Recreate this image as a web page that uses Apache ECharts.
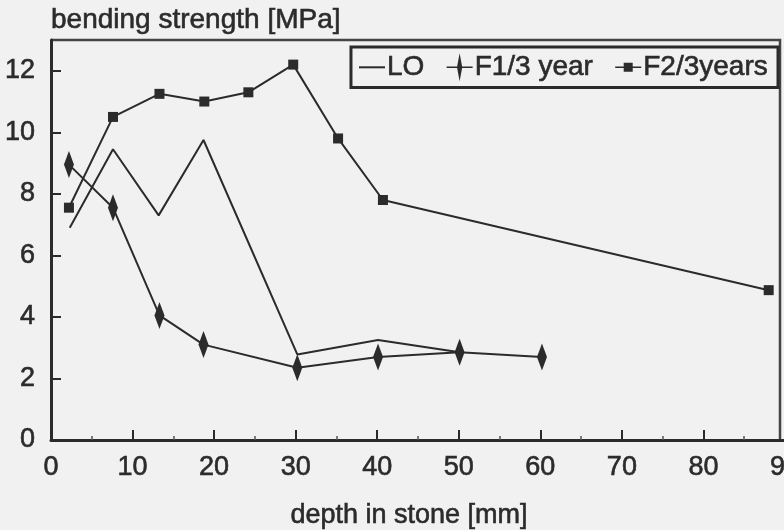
<!DOCTYPE html>
<html>
<head>
<meta charset="utf-8">
<script src="https://cdn.jsdelivr.net/npm/echarts@6/dist/echarts.min.js"></script>
<style>
html,body{margin:0;padding:0;background:#f1f1f1;}
#chart{width:784px;height:530px;}
</style>
</head>
<body>
<div id="chart"></div>
<script>
// depth in stone [mm] and bending strength [MPa]
const depthLO = [2.3, 7.6, 13.2, 18.7, 30.2, 40.1, 50.1];
const strengthLO = [6.9, 9.45, 7.3, 9.75, 2.78, 3.25, 2.85];

const depthF1 = [2.2, 7.6, 13.3, 18.7, 30.2, 40.1, 50.1, 60.2];
const strengthF1 = [8.95, 7.55, 4.05, 3.1, 2.35, 2.7, 2.85, 2.7];

const depthF2 = [2.2, 7.6, 13.3, 18.8, 24.2, 29.7, 35.2, 40.7, 88.0];
const strengthF2 = [7.55, 10.5, 11.25, 11.0, 11.3, 12.2, 9.8, 7.8, 4.87];

const seriesNames = ['LO', 'F1/3 year', 'F2/3years'];
const xTicks = [0, 10, 20, 30, 40, 50, 60, 70, 80, 90];
const yTicks = [0, 2, 4, 6, 8, 10, 12];

const zip = (xs, ys) => xs.map((x, i) => [x, ys[i]]);

const INK = '#2b2b2b';
const FONT = '"Liberation Sans", Arial, sans-serif';
const THICK = {textBorderColor: INK, textBorderWidth: 0.6};

const chart = echarts.init(document.getElementById('chart'), null, {renderer: 'canvas'});
chart.setOption({
  backgroundColor: '#f1f1f1',
  animation: false,
  textStyle: {fontFamily: FONT, color: INK},
  grid: {left: 51, right: -1, top: 40, bottom: 90, outerBoundsMode: 'none', containLabel: false},
  legend: {
    right: 6, top: 47,
    itemWidth: 26, itemHeight: 28, itemGap: 22,
    padding: [6, 10, 6, 8],
    borderColor: INK, borderWidth: 3,
    textStyle: Object.assign({fontSize: 28, color: INK, fontFamily: FONT, padding: [0, 0, 0, -3]}, THICK),
    data: [
      {name: seriesNames[0], icon: 'path://M0,13H26V15H0Z'},
      {name: seriesNames[1], icon: 'path://M0,13.2H10.5L13,0L15.5,13.2H26V14.8H15.5L13,28L10.5,14.8H0Z'},
      {name: seriesNames[2], icon: 'path://M0,13.2H8.5V9.5H17.5V13.2H26V14.8H17.5V18.5H8.5V14.8H0Z'}
    ]
  },
  xAxis: {
    type: 'value', min: xTicks[0], max: xTicks[xTicks.length - 1], interval: 10,
    name: 'depth in stone [mm]', nameLocation: 'middle', nameGap: 62,
    nameTextStyle: Object.assign({fontSize: 27, color: INK, fontFamily: FONT, padding: [0, 18, 0, 0]}, THICK),
    axisLine: {show: true, lineStyle: {color: INK, width: 3}},
    axisTick: {show: true, inside: true, length: 10, lineStyle: {color: INK, width: 2}},
    minorTick: {show: true, splitNumber: 2, length: 4, lineStyle: {color: '#555', width: 1.5}},
    axisLabel: Object.assign({fontSize: 27, color: INK, margin: 14, fontFamily: FONT}, THICK),
    splitLine: {show: false}
  },
  yAxis: {
    type: 'value', min: yTicks[0], max: 13, interval: 2,
    name: 'bending strength [MPa]', nameLocation: 'end', nameGap: 6,
    nameTextStyle: Object.assign({fontSize: 28, color: INK, fontFamily: FONT, align: 'left', verticalAlign: 'bottom'}, THICK),
    axisLine: {show: true, lineStyle: {color: INK, width: 3}},
    axisTick: {show: true, inside: true, length: 10, lineStyle: {color: INK, width: 2}},
    axisLabel: Object.assign({fontSize: 27, color: INK, margin: 16, fontFamily: FONT, showMaxLabel: false,
      formatter: v => (yTicks.indexOf(v) >= 0 ? String(v) : '')}, THICK),
    splitLine: {show: false}
  },
  graphic: [{
    type: 'polyline', silent: true,
    shape: {points: [[51, 40], [780, 40], [780, 441]]},
    style: {stroke: '#444', lineWidth: 2.5, fill: null}
  }],
  series: [
    {
      name: seriesNames[0], type: 'line', data: zip(depthLO, strengthLO),
      symbol: 'none', lineStyle: {color: INK, width: 2}, itemStyle: {color: INK}
    },
    {
      name: seriesNames[1], type: 'line', data: zip(depthF1, strengthF1),
      symbol: 'diamond', symbolSize: [10, 27],
      lineStyle: {color: INK, width: 2}, itemStyle: {color: INK}
    },
    {
      name: seriesNames[2], type: 'line', data: zip(depthF2, strengthF2),
      symbol: 'rect', symbolSize: 10,
      lineStyle: {color: INK, width: 2}, itemStyle: {color: INK}
    }
  ]
});
</script>
</body>
</html>
